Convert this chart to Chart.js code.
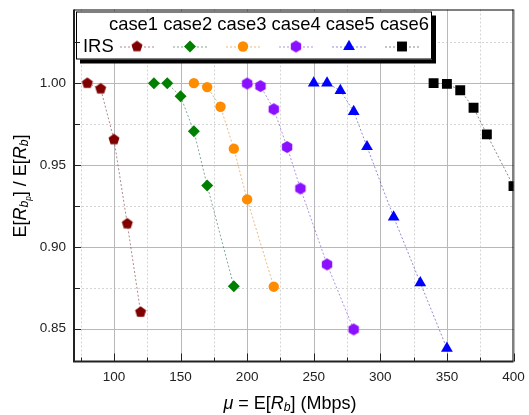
<!DOCTYPE html>
<html>
<head>
<meta charset="utf-8">
<script src="https://cdn.jsdelivr.net/npm/chart.js@4/dist/chart.umd.min.js"></script>
<style>
  html, body { margin: 0; padding: 0; background: #fff; }
  canvas { display: block; }
</style>
</head>
<body>
<canvas id="chart" width="529" height="415"></canvas>
<script>
// values
const caseLabels = ["case1", "case2", "case3", "case4", "case5", "case6"];
const legendTitle = "IRS";

const case1X = [80, 90, 100, 110, 120];
const case1Y = [1.000, 0.9966, 0.9656, 0.9142, 0.8602];
const case2X = [130, 140, 150, 160, 170, 190];
const case2Y = [1.000, 1.000, 0.992, 0.9707, 0.9375, 0.876];
const case3X = [160, 170, 180, 190, 200, 220];
const case3Y = [1.000, 0.9976, 0.9856, 0.960, 0.929, 0.8757];
const case4X = [200, 210, 220, 230, 240, 260, 280];
const case4Y = [0.9998, 0.9982, 0.9841, 0.961, 0.9357, 0.8893, 0.8496];
const case5X = [250, 260, 270, 280, 290, 310, 330, 350];
const case5Y = [1.000, 1.000, 0.9955, 0.9827, 0.9612, 0.9182, 0.8781, 0.838];
const case6X = [340, 350, 360, 370, 380, 400];
const case6Y = [1.000, 0.9996, 0.9957, 0.985, 0.9687, 0.9371];

const xTicks = [100, 150, 200, 250, 300, 350, 400];
const xMinor = [75, 125, 175, 225, 275, 325, 375];
const yTicks = [0.85, 0.90, 0.95, 1.00];
const yMinor = [0.875, 0.925, 0.975, 1.025];

// pentagon / hexagon markers (not built into chart.js)
function makePolygon(sides, r, color) {
	const s = Math.ceil(2 * r + 2);
	const c = document.createElement("canvas");
	c.width = s;
	c.height = s;
	const g = c.getContext("2d");
	g.fillStyle = color;
	g.beginPath();
	for (let i = 0; i < sides; i++) {
		const a = -Math.PI / 2 + (i * 2 * Math.PI) / sides;
		const px = s / 2 + r * Math.cos(a);
		const py = s / 2 + r * Math.sin(a);
		if (i === 0) g.moveTo(px, py);
		else g.lineTo(px, py);
	}
	g.closePath();
	g.fill();
	return c;
}

const colors = ["#800000", "#008000", "#FF8C00", "#8A10FF", "#0000FF", "#000000"];
const lineColors = [
	"rgba(110,40,40,0.55)",
	"rgba(20,100,60,0.55)",
	"rgba(220,150,60,0.65)",
	"rgba(110,60,200,0.55)",
	"rgba(50,50,180,0.55)",
	"rgba(40,40,40,0.55)",
];
const styles = [
	makePolygon(5, 5.8, colors[0]),
	"rectRot",
	"circle",
	makePolygon(6, 6, colors[3]),
	"triangle",
	"rect",
];
const radii = [6, 6, 5.2, 6, 6.8, 7];

function toPoints(xs, ys) {
	return xs.map((x, i) => ({ x: x, y: ys[i] }));
}

const allX = [case1X, case2X, case3X, case4X, case5X, case6X];
const allY = [case1Y, case2Y, case3Y, case4Y, case5Y, case6Y];

const datasets = caseLabels.map((label, i) => ({
	label: label,
	data: toPoints(allX[i], allY[i]),
	showLine: true,
	borderColor: lineColors[i],
	borderWidth: 1,
	borderDash: [2, 2],
	backgroundColor: colors[i],
	pointBackgroundColor: colors[i],
	pointBorderColor: colors[i],
	pointBorderWidth: 0,
	pointStyle: styles[i],
	pointRadius: radii[i],
	pointHoverRadius: radii[i],
	clip: 0,
}));

// text with italic parts and subscripts
function drawRich(ctx, parts, cx, cy, size) {
	const info = parts.map((p) => {
		const lvl = (p[1].match(/s/g) || []).length;
		const sz = size * Math.pow(0.68, lvl);
		const font = (p[1].includes("i") ? "italic " : "") + sz + "px Arial";
		ctx.font = font;
		return { t: p[0], font: font, w: ctx.measureText(p[0]).width, dy: lvl * size * 0.22 };
	});
	const total = info.reduce((a, b) => a + b.w, 0);
	let x = cx - total / 2;
	ctx.textAlign = "left";
	ctx.textBaseline = "middle";
	info.forEach((p) => {
		ctx.font = p.font;
		ctx.fillText(p.t, x, cy + p.dy);
		x += p.w;
	});
}

const framePlugin = {
	id: "frame",
	beforeDatasetsDraw(chart) {
		const ctx = chart.ctx;
		const a = chart.chartArea;
		const xs = chart.scales.x;
		const ys = chart.scales.y;
		ctx.save();
		ctx.lineWidth = 1;
		// minor dashed grid
		ctx.strokeStyle = "#d4d4d4";
		ctx.setLineDash([2, 2]);
		xMinor.forEach((v) => {
			const px = Math.round(xs.getPixelForValue(v)) + 0.5;
			ctx.beginPath();
			ctx.moveTo(px, a.top);
			ctx.lineTo(px, a.bottom);
			ctx.stroke();
		});
		yMinor.forEach((v) => {
			const py = Math.round(ys.getPixelForValue(v)) + 0.5;
			ctx.beginPath();
			ctx.moveTo(a.left, py);
			ctx.lineTo(a.right, py);
			ctx.stroke();
		});
		// major solid grid
		ctx.setLineDash([]);
		ctx.strokeStyle = "#b8b8b8";
		xTicks.forEach((v) => {
			const px = Math.round(xs.getPixelForValue(v)) + 0.5;
			ctx.beginPath();
			ctx.moveTo(px, a.top);
			ctx.lineTo(px, a.bottom);
			ctx.stroke();
		});
		yTicks.forEach((v) => {
			const py = Math.round(ys.getPixelForValue(v)) + 0.5;
			ctx.beginPath();
			ctx.moveTo(a.left, py);
			ctx.lineTo(a.right, py);
			ctx.stroke();
		});
		ctx.restore();
	},
	afterDraw(chart) {
		const ctx = chart.ctx;
		const a = chart.chartArea;
		const xs = chart.scales.x;
		const ys = chart.scales.y;
		ctx.save();

		// legend box with shadow
		const bx = 76, by = 11.5, bw = 356, bh = 48;
		ctx.fillStyle = "#000";
		ctx.fillRect(bx + 4, by + 4, bw, bh);
		ctx.fillStyle = "#fff";
		ctx.fillRect(bx, by, bw, bh);
		ctx.strokeStyle = "#000";
		ctx.lineWidth = 1;
		ctx.strokeRect(bx + 0.5, by + 0.5, bw - 1, bh - 1);

		ctx.fillStyle = "#000";
		ctx.font = "18.4px Arial";
		ctx.textBaseline = "middle";
		ctx.textAlign = "left";
		ctx.fillText(caseLabels.join(" "), 109, 25);
		ctx.fillText(legendTitle, 83, 47);

		chart.data.datasets.forEach((ds, i) => {
			const cx = 137 + i * 53;
			const cy = 46.5;
			ctx.save();
			ctx.strokeStyle = ds.borderColor;
			ctx.lineWidth = 1;
			ctx.setLineDash([2, 2]);
			ctx.beginPath();
			ctx.moveTo(cx - 17, cy + 0.5);
			ctx.lineTo(cx + 17, cy + 0.5);
			ctx.stroke();
			ctx.setLineDash([]);
			ctx.fillStyle = ds.pointBackgroundColor;
			ctx.strokeStyle = ds.pointBorderColor;
			Chart.helpers.drawPoint(ctx, {
				pointStyle: ds.pointStyle,
				radius: ds.pointRadius,
				rotation: 0,
				borderWidth: 0,
			}, cx, cy);
			ctx.restore();
		});

		// frame
		ctx.strokeStyle = "#000";
		ctx.lineWidth = 1;
		ctx.beginPath();
		ctx.moveTo(a.left, a.top + 0.5);
		ctx.lineTo(a.right, a.top + 0.5);
		ctx.moveTo(a.right - 0.5, a.top);
		ctx.lineTo(a.right - 0.5, a.bottom);
		ctx.stroke();
		ctx.strokeStyle = "#222";
		ctx.lineWidth = 2;
		ctx.beginPath();
		ctx.moveTo(a.left, a.top);
		ctx.lineTo(a.left, a.bottom);
		ctx.lineTo(a.right, a.bottom);
		ctx.stroke();

		// inward ticks
		ctx.lineWidth = 1;
		const tickX = (list, len) => list.forEach((v) => {
			const px = Math.round(xs.getPixelForValue(v)) + 0.5;
			ctx.beginPath();
			ctx.moveTo(px, a.bottom);
			ctx.lineTo(px, a.bottom - len);
			ctx.stroke();
		});
		const tickY = (list, len) => list.forEach((v) => {
			const py = Math.round(ys.getPixelForValue(v)) + 0.5;
			ctx.beginPath();
			ctx.moveTo(a.left, py);
			ctx.lineTo(a.left + len, py);
			ctx.stroke();
		});
		tickX(xTicks, 8);
		tickX(xMinor, 4);
		tickY(yTicks, 7);
		tickY(yMinor, 6);

		// axis titles
		ctx.fillStyle = "#000";
		drawRich(ctx, [["μ", "i"], [" = E[", ""], ["R", "i"], ["b", "is"], ["] (Mbps)", ""]],
			290, 404, 18);
		ctx.translate(21, 186);
		ctx.rotate(-Math.PI / 2);
		drawRich(ctx, [["E[", ""], ["R", "i"], ["b", "is"], ["p", "iss"], ["] / E[", ""], ["R", "i"], ["b", "is"], ["]", ""]],
			0, 0, 18);
		ctx.restore();
	},
};

const ctx = document.getElementById("chart").getContext("2d");
new Chart(ctx, {
	type: "scatter",
	data: { datasets: datasets },
	options: {
		responsive: false,
		animation: false,
		layout: { padding: { top: 9.5, right: 15.5, left: 0, bottom: 0 } },
		plugins: {
			legend: { display: false },
			tooltip: { enabled: false },
		},
		scales: {
			x: {
				type: "linear",
				min: 70,
				max: 400,
				grid: { display: false, drawTicks: false },
				border: { display: false },
				afterBuildTicks: (scale) => {
					scale.ticks = xTicks.map((v) => ({ value: v }));
				},
				afterFit: (scale) => {
					scale.height = 53.5;
					scale.paddingLeft = 0;
					scale.paddingRight = 0;
				},
				ticks: {
					padding: 8,
					color: "#222",
					font: { family: "Arial", size: 13.5 },
					maxRotation: 0,
					callback: (v) => String(v),
				},
			},
			y: {
				type: "linear",
				min: 0.83,
				max: 1.045,
				grid: { display: false, drawTicks: false },
				border: { display: false },
				afterBuildTicks: (scale) => {
					scale.ticks = yTicks.map((v) => ({ value: v }));
				},
				afterFit: (scale) => {
					scale.width = 74;
					scale.paddingTop = 0;
					scale.paddingBottom = 0;
				},
				ticks: {
					padding: 8,
					color: "#222",
					font: { family: "Arial", size: 13.5 },
					callback: (v) => v.toFixed(2),
				},
			},
		},
	},
	plugins: [framePlugin],
});
</script>
</body>
</html>
